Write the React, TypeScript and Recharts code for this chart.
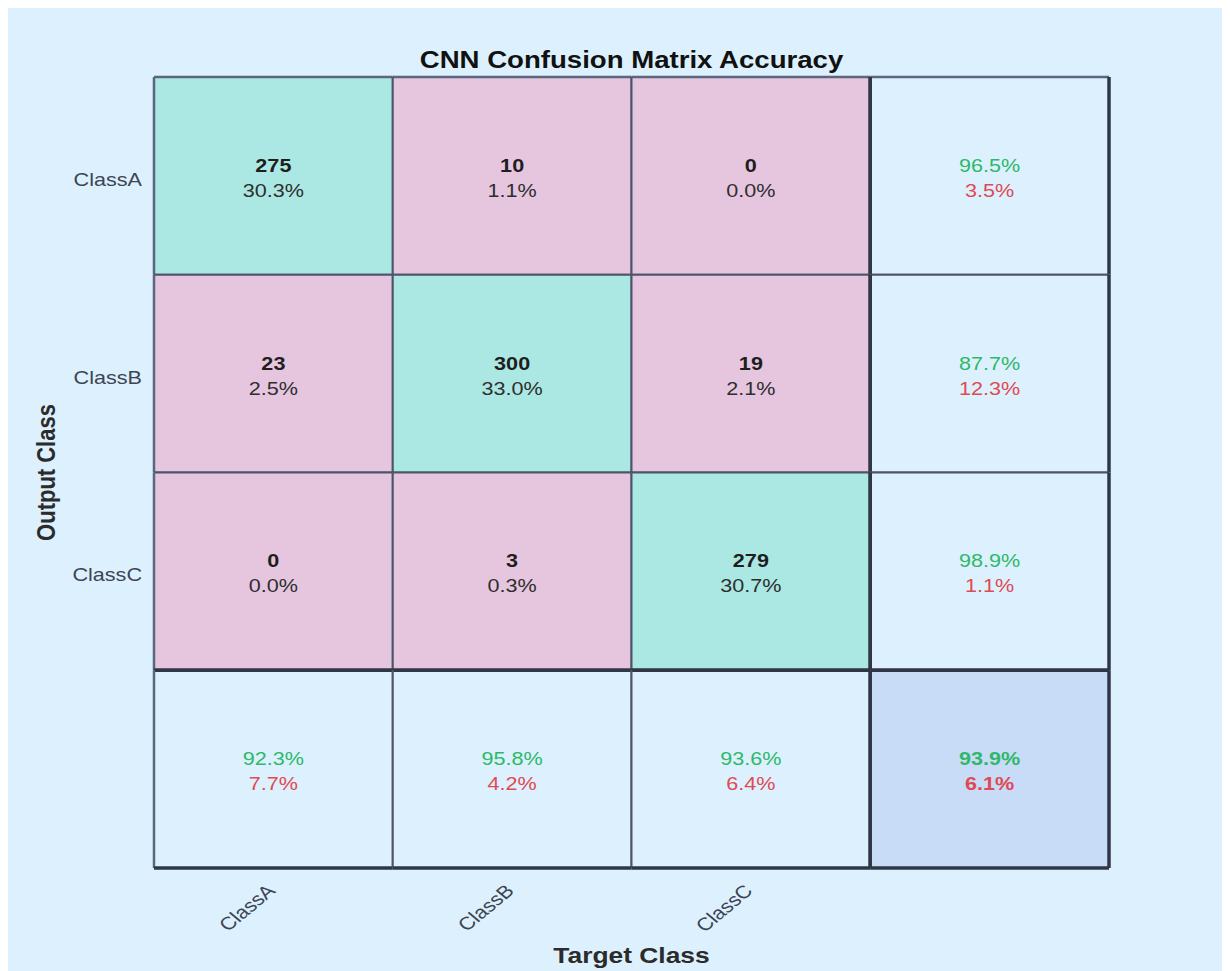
import React from 'react'
import { ScatterChart, Scatter, XAxis, YAxis } from 'recharts'

// confusion matrix values
const classes = ['ClassA', 'ClassB', 'ClassC']
const counts = [
  [275, 10, 0],
  [23, 300, 19],
  [0, 3, 279],
]
const cellPercents = [
  [30.3, 1.1, 0.0],
  [2.5, 33.0, 2.1],
  [0.0, 0.3, 30.7],
]
const rowCorrect = [96.5, 87.7, 98.9]
const rowWrong = [3.5, 12.3, 1.1]
const colCorrect = [92.3, 95.8, 93.6]
const colWrong = [7.7, 4.2, 6.4]
const overallCorrect = 93.9
const overallWrong = 6.1

const W = 1222
const H = 963
const MARGIN = { top: 69, right: 121, bottom: 43, left: 56 }
const Y_AXIS_W = 90
const X_AXIS_H = 60
const PLOT_L = MARGIN.left + Y_AXIS_W
const PLOT_T = MARGIN.top
const PLOT_W = W - PLOT_L - MARGIN.right
const PLOT_H = H - MARGIN.top - MARGIN.bottom - X_AXIS_H
const CELL_W = PLOT_W / 4
const CELL_H = PLOT_H / 4
const STRETCH = 1.2

const FONT = '"Liberation Sans", Arial, sans-serif'
const BG = '#DCF1FD'
const DIAG = '#ABE8E3'
const OFF = '#E6C6DF'
const SUMMARY = '#DCF1FD'
const TOTAL = '#C8DCF8'
const GREEN = '#2FB86A'
const RED = '#E04A52'
const GRID = '#4B5468'
const EDGE_LIGHT = '#5A667E'
const EDGE_DARK = '#2F3747'

type CellDatum = {
  x: number
  y: number
  kind: 'diag' | 'off' | 'summary' | 'total'
  top: string
  bottom: string
}

const pct = (v: number) => `${v.toFixed(1)}%`

const cells: CellDatum[] = []
classes.forEach((_, r) => {
  classes.forEach((__, c) => {
    cells.push({
      x: c + 0.5,
      y: r + 0.5,
      kind: r === c ? 'diag' : 'off',
      top: String(counts[r][c]),
      bottom: pct(cellPercents[r][c]),
    })
  })
  cells.push({ x: 3.5, y: r + 0.5, kind: 'summary', top: pct(rowCorrect[r]), bottom: pct(rowWrong[r]) })
})
classes.forEach((_, c) => {
  cells.push({ x: c + 0.5, y: 3.5, kind: 'summary', top: pct(colCorrect[c]), bottom: pct(colWrong[c]) })
})
cells.push({ x: 3.5, y: 3.5, kind: 'total', top: pct(overallCorrect), bottom: pct(overallWrong) })

const SText = ({ x, y, size, weight = 'normal', fill, anchor = 'middle', rotate = 0, children }: any) => (
  <text
    transform={`translate(${x},${y}) scale(${STRETCH},1)${rotate ? ` rotate(${rotate})` : ''}`}
    textAnchor={anchor}
    fontSize={size}
    fontWeight={weight}
    fill={fill}
    fontFamily={FONT}
  >
    {children}
  </text>
)

// edge style depends on where the cell sits: outer frame, summary separator or plain grid
const edge = (kind: 'outer' | 'sep' | 'grid') =>
  kind === 'sep' ? { stroke: EDGE_DARK, strokeWidth: 3.5 } : kind === 'outer' ? { stroke: EDGE_LIGHT, strokeWidth: 2.5 } : { stroke: GRID, strokeWidth: 2 }

const MatrixCell = (props: any) => {
  const { cx, cy, payload } = props
  const d = payload as CellDatum
  const col = Math.floor(d.x)
  const row = Math.floor(d.y)
  const fill = d.kind === 'diag' ? DIAG : d.kind === 'off' ? OFF : d.kind === 'total' ? TOTAL : SUMMARY
  const isCount = d.kind === 'diag' || d.kind === 'off'
  const x0 = cx - CELL_W / 2
  const x1 = cx + CELL_W / 2
  const y0 = cy - CELL_H / 2
  const y1 = cy + CELL_H / 2
  return (
    <g>
      <rect x={x0} y={y0} width={CELL_W} height={CELL_H} fill={fill} />
      <line x1={x0} y1={y0} x2={x1} y2={y0} {...edge(row === 0 ? 'outer' : row === 3 ? 'sep' : 'grid')} />
      <line x1={x0} y1={y0} x2={x0} y2={y1} {...edge(col === 0 ? 'outer' : col === 3 ? 'sep' : 'grid')} />
      <line x1={x1} y1={y0} x2={x1} y2={y1} {...edge(col >= 2 ? 'sep' : 'grid')} />
      <line x1={x0} y1={y1} x2={x1} y2={y1} {...edge(row >= 2 ? 'sep' : 'grid')} />
      <SText x={cx} y={cy - 4} size={18} weight={isCount || d.kind === 'total' ? 'bold' : 'normal'} fill={isCount ? '#1E1E1E' : GREEN}>
        {d.top}
      </SText>
      <SText x={cx} y={cy + 21} size={18} weight={d.kind === 'total' ? 'bold' : 'normal'} fill={isCount ? '#2E2E2E' : RED}>
        {d.bottom}
      </SText>
    </g>
  )
}

const YTick = (props: any) => {
  const { y, payload } = props
  return (
    <SText x={PLOT_L - 12} y={y + 10} size={18} fill="#3D4454" anchor="end">
      {classes[Math.floor(payload.value)]}
    </SText>
  )
}

const XTick = (props: any) => {
  const { x, payload } = props
  return (
    <SText x={x + 3} y={PLOT_T + PLOT_H + 24} size={18} fill="#3D4454" anchor="end" rotate={-45}>
      {classes[Math.floor(payload.value)]}
    </SText>
  )
}

const XTitle = () => (
  <SText x={PLOT_L + PLOT_W / 2} y={955} size={22} weight="bold" fill="#2B2B2B">
    Target Class
  </SText>
)

const YTitle = () => (
  <SText x={47} y={PLOT_T + PLOT_H / 2} size={22} weight="bold" fill="#2B2B2B" rotate={-90}>
    Output Class
  </SText>
)

export default function App() {
  return (
    <div style={{ position: 'relative', width: W, height: H, background: BG }}>
      <svg width={W} height={80} style={{ position: 'absolute', left: 0, top: 0 }}>
        <SText x={PLOT_L + PLOT_W / 2} y={60} size={23} weight="bold" fill="#111111">
          CNN Confusion Matrix Accuracy
        </SText>
      </svg>
      <div style={{ position: 'absolute', left: 0, top: 0 }}>
        <ScatterChart width={W} height={H} margin={MARGIN}>
          <XAxis
            type="number"
            dataKey="x"
            domain={[0, 4]}
            ticks={[0.5, 1.5, 2.5]}
            interval={0}
            axisLine={false}
            tickLine={false}
            height={X_AXIS_H}
            tick={<XTick />}
            label={<XTitle />}
          />
          <YAxis
            type="number"
            dataKey="y"
            domain={[0, 4]}
            reversed
            ticks={[0.5, 1.5, 2.5]}
            interval={0}
            axisLine={false}
            tickLine={false}
            width={Y_AXIS_W}
            tick={<YTick />}
            label={<YTitle />}
          />
          <Scatter data={cells} shape={<MatrixCell />} isAnimationActive={false} />
        </ScatterChart>
      </div>
    </div>
  )
}
